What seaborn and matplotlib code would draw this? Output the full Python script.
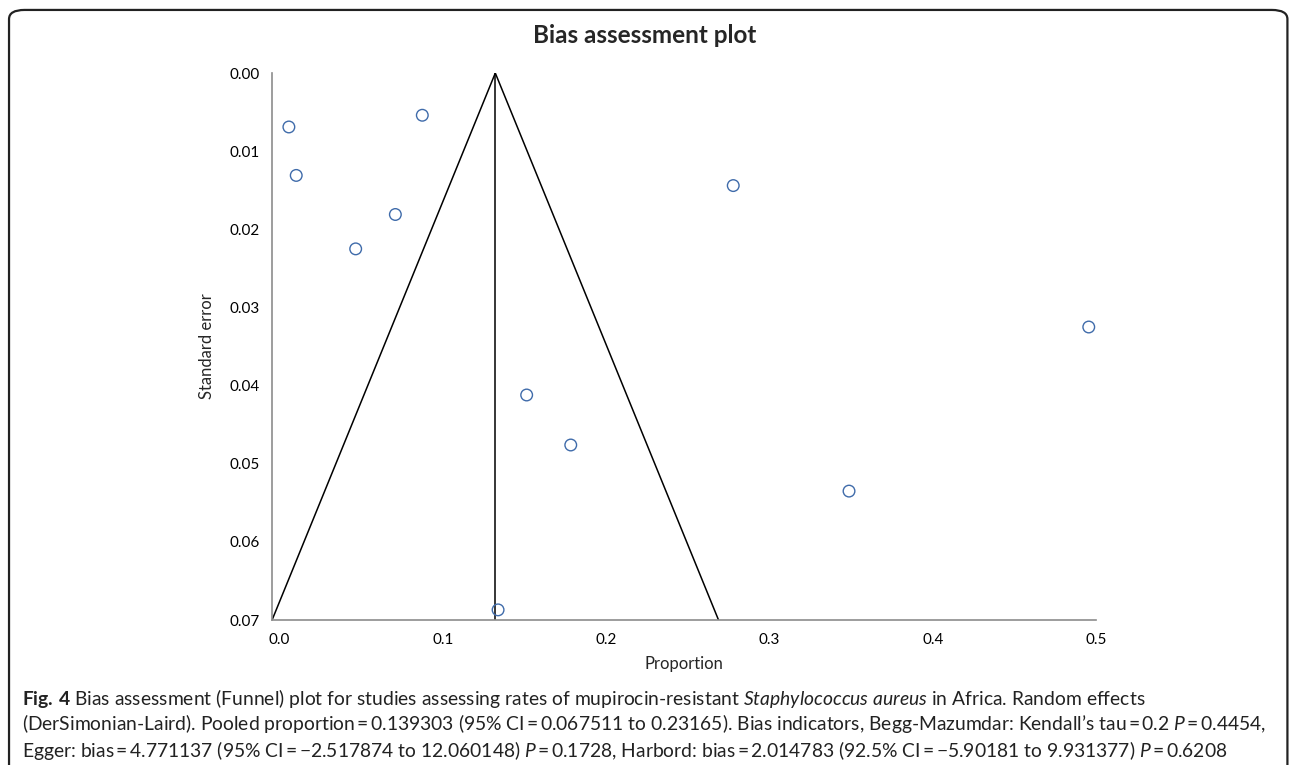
import matplotlib
matplotlib.use("Agg")
import matplotlib.pyplot as plt
import matplotlib.ticker as mticker
from matplotlib.patches import FancyBboxPatch
import pandas as pd
import seaborn as sns

# ==========================================
# Data
# ==========================================

proportion = [0.0057, 0.0102, 0.0874, 0.0709, 0.0466, 0.2778,
              0.4955, 0.1513, 0.1783, 0.3487, 0.1338]
std_error = [0.0069, 0.0131, 0.0054, 0.0181, 0.0225, 0.0144,
             0.0325, 0.0412, 0.0476, 0.0535, 0.0687]

funnel_x = [-0.0046, 0.1321, 0.2688]
funnel_y = [0.07, 0.0, 0.07]

pooled_x = [0.1321, 0.1321]
pooled_y = [0.0, 0.07]

x_ticks = [0.0, 0.1, 0.2, 0.3, 0.4, 0.5]
y_ticks = [0.00, 0.01, 0.02, 0.03, 0.04, 0.05, 0.06, 0.07]

caption_lines = [
    r"$\mathbf{Fig.\,4}$ Bias assessment (Funnel) plot for studies assessing rates of mupirocin-resistant "
    r"$\mathit{Staphylococcus\ aureus}$ in Africa. Random effects",
    "(DerSimonian-Laird). Pooled proportion\u2009=\u20090.139303 (95% CI\u2009=\u20090.067511 to 0.23165). "
    "Bias indicators, Begg-Mazumdar: Kendall\u2019s tau\u2009=\u20090.2 $\\mathit{P}$\u2009=\u20090.4454,",
    "Egger: bias\u2009=\u20094.771137 (95% CI\u2009=\u2009\u22122.517874 to 12.060148) $\\mathit{P}$\u2009=\u20090.1728, "
    "Harbord: bias\u2009=\u20092.014783 (92.5% CI\u2009=\u2009\u22125.90181 to 9.931377) $\\mathit{P}$\u2009=\u20090.6208",
]

df = pd.DataFrame({"Proportion": proportion, "Standard error": std_error})

# ==========================================
# Style
# ==========================================

sns.set_style("white")
plt.rcParams["font.family"] = ["Lato", "DejaVu Sans"]
plt.rcParams["mathtext.fontset"] = "custom"
plt.rcParams["mathtext.rm"] = "Lato"
plt.rcParams["mathtext.it"] = "Lato:italic"
plt.rcParams["mathtext.bf"] = "Lato:bold"

fig = plt.figure(figsize=(12.9, 7.65), dpi=100)
ax = fig.add_axes([0.2109, 0.1895, 0.6388, 0.7150])

# outer frame
frame = FancyBboxPatch((0.007, -0.05), 0.991, 1.037,
                       boxstyle="round,pad=0,rounding_size=0.012",
                       transform=fig.transFigure, fill=False,
                       edgecolor="#222222", linewidth=1.6)
fig.patches.append(frame)

# ==========================================
# Funnel plot
# ==========================================

sns.lineplot(x=funnel_x, y=funnel_y, sort=False, estimator=None,
             color="black", linewidth=1.1, ax=ax)
sns.lineplot(x=pooled_x, y=pooled_y, sort=False, estimator=None,
             color="black", linewidth=1.1, ax=ax)

sns.scatterplot(data=df, x="Proportion", y="Standard error", ax=ax,
                s=70, facecolor="none", edgecolor="#3F6BAA",
                linewidth=1.0, zorder=5, clip_on=False)

ax.set_xlim(-0.0046, 0.5)
ax.set_ylim(0.07, 0.0)
ax.set_xticks(x_ticks)
ax.set_yticks(y_ticks)
ax.xaxis.set_major_formatter(mticker.FormatStrFormatter("%.1f"))
ax.yaxis.set_major_formatter(mticker.FormatStrFormatter("%.2f"))

for side in ["top", "right"]:
    ax.spines[side].set_visible(False)
for side in ["left", "bottom"]:
    ax.spines[side].set_color("#8c8c8c")
    ax.spines[side].set_linewidth(1.2)

ax.tick_params(axis="both", direction="out", length=5, width=1.0,
               color="#8c8c8c", labelsize=11, labelcolor="black", pad=4)

ax.set_xlabel("Proportion", fontsize=12, labelpad=7)
ax.set_ylabel("Standard error", fontsize=12, labelpad=10)

fig.text(0.5, 0.953, "Bias assessment plot", ha="center", va="center",
         fontsize=17.5, fontweight="bold")

caption_y = [0.0863, 0.0536, 0.0196]
for line, y in zip(caption_lines, caption_y):
    fig.text(0.017, y, line, ha="left", va="center",
             fontsize=13.9, color="#222222")

plt.savefig("out.png", dpi=100)
